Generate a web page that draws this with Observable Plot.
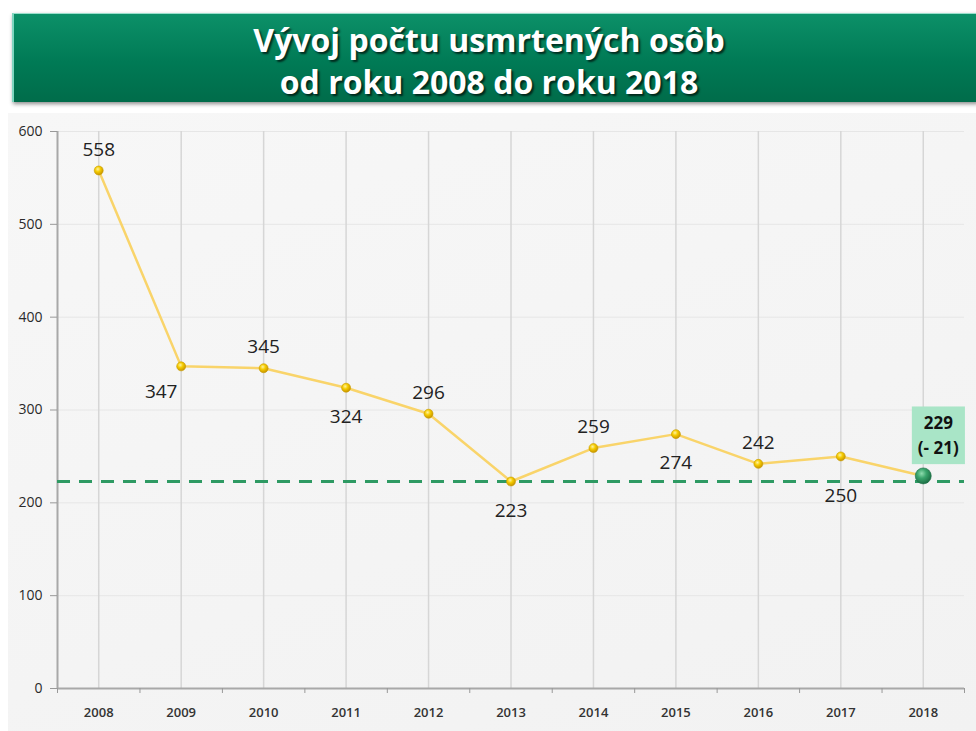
<!DOCTYPE html>
<html>
<head>
<meta charset="utf-8">
<script src="https://cdn.jsdelivr.net/npm/d3@7"></script>
<script src="https://cdn.jsdelivr.net/npm/@observablehq/plot@0.6"></script>
<style>
  html, body { margin: 0; padding: 0; background: #fff; }
  #page { position: relative; width: 976px; height: 731px; overflow: hidden; font-family: "Open Sans", sans-serif; }
  #banner {
    position: absolute; left: 12px; top: 13px; width: 966px; height: 89px;
    background: linear-gradient(#0c9068, #007a55 55%, #006c4a);
    border-left: 2px solid #7fd6c0; border-top: 1px solid #9adfcc;
    box-shadow: 1px 2px 4px rgba(0,0,0,0.45);
    color: #fff; text-align: center; font-weight: 700; font-size: 32px;
    text-shadow: 2px 2px 2px rgba(0,0,0,0.65);
    box-sizing: border-box;
  }
  #banner .l1 { position: absolute; left: 0; right: 14px; top: 6px; line-height: 40px; }
  #banner .l2 { position: absolute; left: 0; right: 14px; top: 48px; line-height: 40px; }
  #chart {
    position: absolute; left: 8px; top: 113px; width: 968px; height: 618px;
    background: linear-gradient(160deg, #f7f7f7, #f2f2f2);
  }
</style>
</head>
<body>
<div id="page">
  <div id="banner"><div class="l1">Vývoj počtu usmrtených osôb</div><div class="l2">od roku 2008 do roku 2018</div></div>
  <div id="chart"></div>
</div>
<script>
const years = [2008, 2009, 2010, 2011, 2012, 2013, 2014, 2015, 2016, 2017, 2018];
const deaths = [558, 347, 345, 324, 296, 223, 259, 274, 242, 250, 229];
const yTicks = [0, 100, 200, 300, 400, 500, 600];
const baseline = 223;
const labelsBelow = [2009, 2011, 2013, 2015, 2017];

const data = years.map((y, i) => ({year: y, value: deaths[i]}));
const last = data[data.length - 1];
const prev = data[data.length - 2];
const change = last.value - prev.value;
const lastText = `${last.value}\n(${change < 0 ? "- " + Math.abs(change) : "+ " + change})`;
const boundaries = years.map(y => y - 0.5).concat([years[years.length - 1] + 0.5]);
const fmt = d3.format("d");

const above = data.filter(d => !labelsBelow.includes(d.year) && d !== last);
const below = data.filter(d => labelsBelow.includes(d.year) && d.year !== 2009 && d.year !== 2017);
const belowLeft = data.filter(d => d.year === 2009);
const belowFar = data.filter(d => d.year === 2017);

const labelFont = {fontSize: 19, fill: "#222", fontFamily: "Open Sans"};

const plot = Plot.plot({
  width: 968,
  height: 618,
  marginLeft: 49,
  marginRight: 12,
  marginTop: 18,
  marginBottom: 43,
  style: {background: "transparent", fontFamily: "Open Sans", color: "#333"},
  x: {type: "linear", domain: [boundaries[0], boundaries[boundaries.length - 1]]},
  y: {domain: [0, 600]},
  marks: [
    Plot.gridY({ticks: yTicks.slice(1), stroke: "#e6e6e6", strokeOpacity: 1}),
    Plot.gridX({ticks: years, stroke: "#d6d6d6", strokeOpacity: 1, strokeWidth: 1.5}),
    Plot.ruleX([boundaries[0]], {stroke: "#a8a8a8", strokeWidth: 2}),
    Plot.ruleY([0], {stroke: "#a8a8a8", strokeWidth: 2}),
    Plot.axisY({ticks: yTicks, tickSize: 7, tickPadding: 8, fontSize: 14, tickFormat: fmt, label: null, stroke: "#999", fill: "#2a2a2a"}),
    Plot.axisX({ticks: boundaries, tickSize: 5, tickFormat: () => "", label: null, stroke: "#999"}),
    Plot.axisX({ticks: years, tickSize: 0, tickPadding: 19, fontSize: 13, fontWeight: 600, tickFormat: fmt, label: null, fill: "#333"}),
    Plot.ruleY([baseline], {stroke: "#2e9a63", strokeWidth: 3, strokeDasharray: "13,9"}),
    Plot.line(data, {x: "year", y: "value", stroke: "#f9d46a", strokeWidth: 2.5}),
    Plot.dot(data.slice(0, -1), {x: "year", y: "value", r: 4.5, fill: "url(#goldGrad)", stroke: "#c99e00", strokeWidth: 0.6}),
    Plot.dot([last], {x: "year", y: "value", r: 8, fill: "url(#greenGrad)", stroke: "#1d6e45", strokeWidth: 0.6}),
    Plot.text(above, {x: "year", y: "value", text: d => String(d.value), dy: -21, ...labelFont}),
    Plot.text(below, {x: "year", y: "value", text: d => String(d.value), dy: 29, ...labelFont}),
    Plot.text(belowLeft, {x: "year", y: "value", text: d => String(d.value), dy: 26, dx: -20, ...labelFont}),
    Plot.text(belowFar, {x: "year", y: "value", text: d => String(d.value), dy: 39, ...labelFont}),
    Plot.text([last], {x: "year", y: "value", text: () => lastText, dx: 15, dy: -42, lineHeight: 1.45, fontSize: 17, fontWeight: 700, fill: "#111"})
  ]
});

document.getElementById("chart").appendChild(plot);

// gradients for the spherical markers
const svg = d3.select(plot);
const defs = svg.insert("defs", ":first-child");
const g1 = defs.append("radialGradient").attr("id", "goldGrad").attr("cx", "40%").attr("cy", "35%").attr("r", "65%");
g1.append("stop").attr("offset", "0%").attr("stop-color", "#fff3a0");
g1.append("stop").attr("offset", "45%").attr("stop-color", "#f5cc00");
g1.append("stop").attr("offset", "100%").attr("stop-color", "#c89400");
const g2 = defs.append("radialGradient").attr("id", "greenGrad").attr("cx", "40%").attr("cy", "35%").attr("r", "65%");
g2.append("stop").attr("offset", "0%").attr("stop-color", "#8fdcae");
g2.append("stop").attr("offset", "45%").attr("stop-color", "#3aa56c");
g2.append("stop").attr("offset", "100%").attr("stop-color", "#1c6e44");

// background box for the last label
const lab = Array.from(plot.querySelectorAll("text")).find(t => t.textContent.includes("("));
if (lab) {
  const b = lab.getBBox();
  const padX = 6, padY = 5;
  d3.select(lab).insert("rect", ":first-child");
  d3.select(lab.parentNode).insert("rect", () => lab)
    .attr("x", b.x - padX).attr("y", b.y - padY)
    .attr("width", b.width + 2 * padX).attr("height", b.height + 2 * padY)
    .attr("transform", lab.getAttribute("transform"))
    .attr("fill", "#a9e5c7");
  d3.select(lab).select("rect").remove();
}
</script>
</body>
</html>
